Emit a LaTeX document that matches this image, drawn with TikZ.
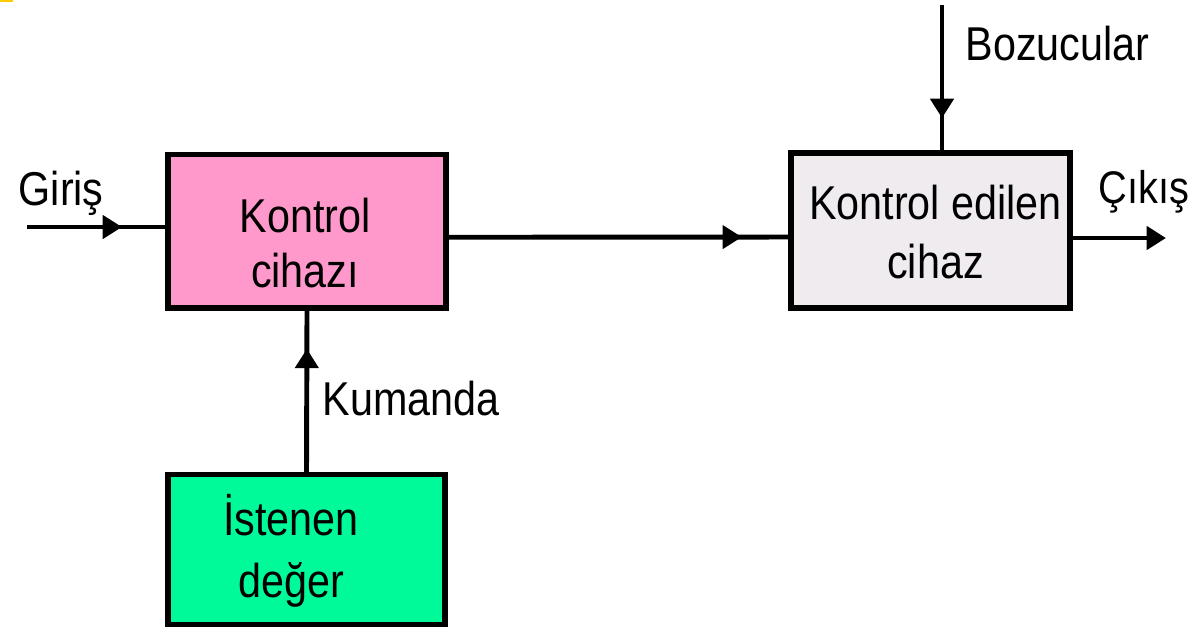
\documentclass[tikz,border=0pt]{standalone}
\usepackage{fontspec}
\setmainfont[FakeStretch=0.87]{Liberation Sans}
\usetikzlibrary{arrows.meta,decorations.markings,calc}
\definecolor{pinkfill}{HTML}{FF99CC}
\definecolor{greyfill}{HTML}{EFEBEF}
\definecolor{greenfill}{HTML}{00FA9A}
\definecolor{yellowmark}{HTML}{FFCC00}
\begin{document}
\begin{tikzpicture}[x=0.01cm,y=-0.01cm,
  box/.style={draw=black, line width=1.5pt, inner sep=0pt, anchor=center},
  txt/.style={inner sep=0pt, align=center, font=\fontsize{13.5pt}{#1}\selectfont},
  txt/.default=15.6pt,
  flow/.style={line width=1.4pt},
  midarrow/.style={postaction={decorate}, decoration={markings,
      mark=at position #1 with {\arrow{Triangle[length=5.5pt,width=6.5pt]}}}},
]
\useasboundingbox (0,0) rectangle (1192,632);
\fill[white] (0,0) rectangle (1192,632);
\fill[yellowmark] (0,0) rectangle (13,2);

% boxes
\node[box, fill=pinkfill, minimum width=2.78cm, minimum height=1.535cm] (kc) at (307,231.25) {};
\node[box, fill=greyfill, minimum width=2.79cm, minimum height=1.55cm] (kce) at (930.5,230.5) {};
\node[box, fill=greenfill, minimum width=2.77cm, minimum height=1.50cm] (ist) at (306.5,549.5) {};

% box texts (base anchor = baseline of the last line)
\node[txt=15.6pt, anchor=base] (kctext) at (305,287) {Kontrol\\cihazı};
\node[txt=16.5pt, anchor=base] (kcetext) at (935.5,278) {Kontrol edilen\\cihaz};
\node[txt=17.6pt, anchor=base] (isttext) at (291,597) {İstenen\\değer};

% labels
\node[txt, anchor=base west] (giris) at (18,205) {Giriş};
\node[txt, anchor=base west] (boz) at (965,60) {Bozucular};
\node[txt, anchor=base west, font=\fontsize{13pt}{15pt}\selectfont] (cikis) at (1098,203) {Çıkış};
\node[txt, anchor=base west] (kum) at (322,415) {Kumanda};

% connectors
\coordinate (gin) at (27,227);
\coordinate (bz) at (942,5);
\coordinate (out) at (1166,238);
\draw[flow, midarrow=0.95cm] (gin) -- (gin -| kc.west);
\draw[flow, midarrow=2.93cm] ([yshift=-0.06cm]kc.east) -- ([yshift=-0.065cm]kce.west);
\draw[flow, midarrow=1.13cm] (bz) -- (bz |- kce.north);
\draw[flow, -{Triangle[length=5.5pt,width=6.5pt]}] (kce.east |- out) -- (out);
\draw[flow, midarrow=1.23cm] (ist.north) -- (kc.south);
\end{tikzpicture}
\end{document}
